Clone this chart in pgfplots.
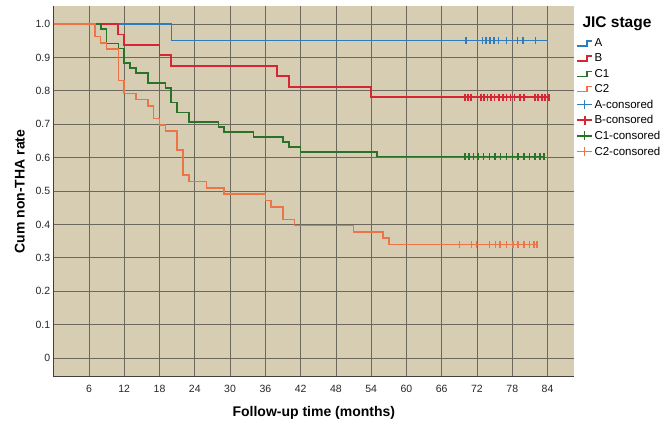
\documentclass[border=0pt]{standalone}
\usepackage{fontspec}
\setmainfont{Liberation Sans}
\usepackage{pgfplots}
\pgfplotsset{compat=1.18}

\definecolor{bgtan}{RGB}{214,205,178}
\definecolor{gridc}{RGB}{108,104,94}
\definecolor{colA}{RGB}{44,124,192}
\definecolor{colB}{RGB}{214,38,52}
\definecolor{colC}{RGB}{40,115,40}
\definecolor{colD}{RGB}{236,116,70}

% step icon and censored icon for the legend
\newcommand{\stepicon}[2]{\draw[#1,line width=#2] (0pt,-2.5pt) -- (10pt,-2.5pt) -- (10pt,2.5pt) -- (15pt,2.5pt);}
\newcommand{\censicon}[2]{\draw[#1,line width=#2] (0pt,0pt) -- (15pt,0pt) (7.5pt,-4.5pt) -- (7.5pt,4.5pt);}

\begin{document}
\begin{tikzpicture}
\path[use as bounding box] (-53.7pt,-50pt) rectangle (617.3pt,377pt);
\begin{axis}[
  at={(0pt,0pt)}, anchor=south west,
  scale only axis, width=520.3pt, height=371pt,
  xmin=0, xmax=88.5, ymin=-0.057, ymax=1.054,
  axis background/.style={fill=bgtan},
  axis x line*=bottom, axis y line*=left,
  axis line style={-, draw=black!75, line width=1pt},
  major tick length=0pt,
  grid=major, major grid style={gridc, line width=0.7pt},
  xtick={6,12,18,24,30,36,42,48,54,60,66,72,78,84},
  xticklabels={6,12,18,24,30,36,42,48,54,60,66,72,78,84},
  ytick={0,0.1,0.2,0.3,0.4,0.5,0.6,0.7,0.8,0.9,1},
  yticklabels={0,0.1,0.2,0.3,0.4,0.5,0.6,0.7,0.8,0.9,1.0},
  tick label style={font=\fontsize{10.5}{12}\selectfont, text=black!85},
  xticklabel style={yshift=-5pt},
  xlabel={\bfseries Follow-up time (months)},
  ylabel={\bfseries Cum non-THA rate},
  xlabel style={font=\fontsize{14}{16}\selectfont, at={(axis description cs:0.5,-0.097)}, anchor=center},
  ylabel style={font=\fontsize{14}{16}\selectfont, at={(axis description cs:-0.065,0.5)}, anchor=center},
  legend style={font=\fontsize{11.5}{13}\selectfont, draw=none, fill=none,
    at={(rel axis cs:1,1)}, anchor=north west, xshift=2pt, yshift=-31pt,
    row sep=2.8pt, inner sep=0pt, nodes={inner sep=1.5pt}},
  legend cell align=left,
]
% Kaplan-Meier curves
\addplot[const plot, colA, line width=1.5pt, legend image code/.code={\stepicon{colA}{1.5pt}}]
  coordinates {(0,1) (20,0.95) (84,0.95)};
\addplot[const plot, colB, line width=1.8pt, legend image code/.code={\stepicon{colB}{1.8pt}}]
  coordinates {(0,1) (11,0.96875) (12,0.9375) (18,0.90625) (20,0.875) (38,0.84375)
   (40,0.8125) (54,0.78125) (84.3,0.78125)};
\addplot[const plot, colC, line width=1.6pt, legend image code/.code={\stepicon{colC}{1.6pt}}]
  coordinates {(0,1) (8,0.9853) (9,0.9412) (11,0.9265) (12,0.8824) (13,0.8676) (14,0.8529)
   (16,0.8235) (19,0.8088) (20,0.7647) (21,0.7353) (23,0.7059) (28,0.6912) (29,0.6765)
   (34,0.6618) (39,0.6471) (40,0.6324) (42,0.6176) (55,0.6029) (83.4,0.6029)};
\addplot[const plot, colD, line width=1.5pt, legend image code/.code={\stepicon{colD}{1.5pt}}]
  coordinates {(0,1) (7,0.9623) (8,0.9434) (9,0.9245) (11,0.8302) (12,0.7925) (14,0.7736)
   (16,0.7547) (17,0.7170) (18,0.6981) (19,0.6792) (21,0.6226) (22,0.5472) (23,0.5283)
   (26,0.5094) (29,0.4906) (36,0.4717) (37,0.4528) (39,0.4151) (41,0.3962) (51,0.3774)
   (56,0.3585) (57,0.3396) (82.2,0.3396)};
% censored cases
\addplot[only marks, mark=|, mark size=3.5pt, colA, mark options={line width=1.4pt},
  legend image code/.code={\censicon{colA}{1.5pt}}]
  coordinates {(70.1,0.95) (72.1,0.95) (72.9,0.95) (73.5,0.95) (74.2,0.95) (74.9,0.95)
   (75.7,0.95) (77.0,0.95) (78.9,0.95) (79.8,0.95) (82.0,0.95) (84.0,0.95)};
\addplot[only marks, mark=|, mark size=3.5pt, colB, mark options={line width=1.7pt},
  legend image code/.code={\censicon{colB}{1.8pt}}]
  coordinates {(70.0,0.78125) (70.5,0.78125) (71.0,0.78125) (72.7,0.78125) (73.2,0.78125)
   (73.8,0.78125) (74.4,0.78125) (75.0,0.78125) (75.7,0.78125) (76.4,0.78125) (77.0,0.78125)
   (77.7,0.78125) (78.4,0.78125) (79.3,0.78125) (80.0,0.78125) (81.9,0.78125) (82.4,0.78125)
   (83.0,0.78125) (83.6,0.78125) (84.3,0.78125)};
\addplot[only marks, mark=|, mark size=3.5pt, colC, mark options={line width=1.5pt},
  legend image code/.code={\censicon{colC}{1.6pt}}]
  coordinates {(70.0,0.6029) (70.6,0.6029) (71.4,0.6029) (72.2,0.6029) (73.1,0.6029)
   (74.1,0.6029) (75.1,0.6029) (76.0,0.6029) (77.0,0.6029) (78.0,0.6029) (79.0,0.6029)
   (80.0,0.6029) (80.9,0.6029) (81.9,0.6029) (82.7,0.6029) (83.4,0.6029)};
\addplot[only marks, mark=|, mark size=3.5pt, colD, mark options={line width=1.4pt},
  legend image code/.code={\censicon{colD}{1.5pt}}]
  coordinates {(69.0,0.3396) (71.1,0.3396) (71.9,0.3396) (74.1,0.3396) (75.1,0.3396)
   (75.9,0.3396) (77.0,0.3396) (78.1,0.3396) (79.0,0.3396) (80.0,0.3396) (80.9,0.3396)
   (81.7,0.3396) (82.2,0.3396)};
\legend{A,B,C1,C2,A-consored,B-consored,C1-consored,C2-consored}
\end{axis}
\node[font=\fontsize{15.5}{17}\selectfont\bfseries, anchor=center] at (563.3pt,353.5pt) {JIC stage};
\end{tikzpicture}
\end{document}
